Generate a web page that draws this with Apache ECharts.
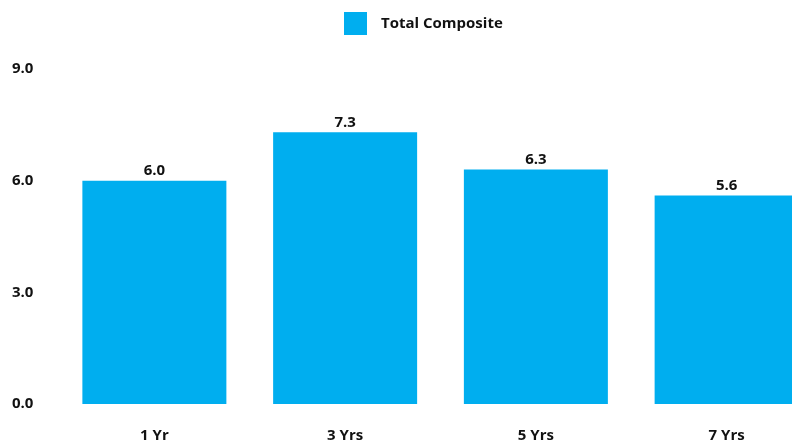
<!DOCTYPE html>
<html>
<head>
<meta charset="utf-8">
<script src="https://cdn.jsdelivr.net/npm/echarts@6/dist/echarts.min.js"></script>
<style>
  html, body { margin: 0; padding: 0; background: #fff; overflow: hidden; }
  /* canvas is a bit wider than the window: last bar runs off the right edge */
  #main { width: 822px; height: 446px; }
</style>
</head>
<body>
<div id="main"></div>
<script>
const categories = ['1 Yr', '3 Yrs', '5 Yrs', '7 Yrs']
const totalComposite = [6.0, 7.3, 6.3, 5.6]

const font = 'Open Sans'
const txt = { fontFamily: font, fontWeight: 'bold', fontSize: 15, color: '#111' }
const chart = echarts.init(document.getElementById('main'))
chart.setOption({
  animation: false,
  textStyle: { fontFamily: font },
  legend: {
    data: [{ name: 'Total Composite', icon: 'rect' }],
    top: 7,
    left: 339,
    itemWidth: 23,
    itemHeight: 23,
    selectedMode: false,
    textStyle: Object.assign({}, txt, { padding: [0, 0, 0, 9] })
  },
  grid: { left: 59, right: 0, top: 69, bottom: 42, containLabel: false },
  xAxis: {
    type: 'category',
    data: categories,
    axisLine: { show: false },
    axisTick: { show: false },
    axisLabel: Object.assign({ margin: 24 }, txt)
  },
  yAxis: {
    type: 'value',
    min: 0,
    max: 9,
    interval: 3,
    splitLine: { show: false },
    axisLine: { show: false },
    axisTick: { show: false },
    axisLabel: Object.assign({
      margin: 47,
      align: 'left',
      formatter: v => v.toFixed(1)
    }, txt)
  },
  series: [{
    name: 'Total Composite',
    type: 'bar',
    data: totalComposite,
    barWidth: 144,
    itemStyle: { color: '#00AEEF' },
    label: Object.assign({
      show: true,
      position: 'top',
      distance: 2,
      formatter: p => p.value.toFixed(1)
    }, txt)
  }]
})
</script>
</body>
</html>
